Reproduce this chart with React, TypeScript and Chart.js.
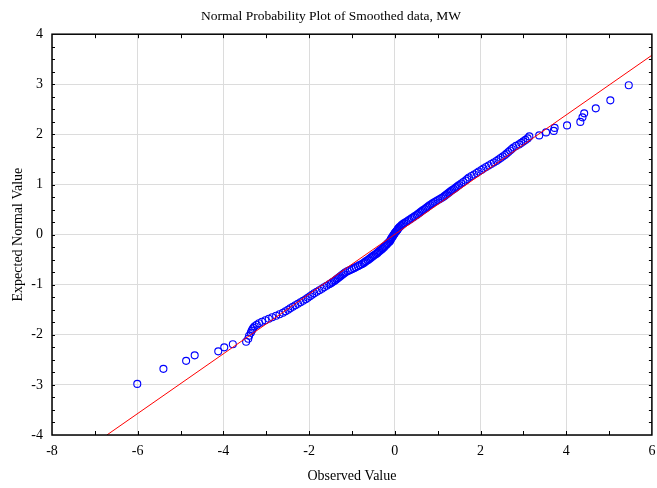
import React, { useEffect, useRef } from "react";
import { Chart, registerables } from "chart.js";

Chart.register(...registerables);

const chartTitle = "Normal Probability Plot of Smoothed data, MW";
const xAxisTitle = "Observed Value";
const yAxisTitle = "Expected Normal Value";

const xMin = -8, xMax = 6, xStep = 2;
const yMin = -4, yMax = 4, yStep = 1;

// lower tail
const lowerX = [-6.01,-5.40,-4.87,-4.67,-4.12,-3.98,-3.78,-3.47,-3.42,-3.40,-3.36,-3.34,-3.32,-3.30,-3.27,-3.22,-3.17,-3.10,-3.02,-2.94,-2.86,-2.77,-2.69,-2.61,-2.55,-2.49,-2.44,-2.38,-2.32,-2.26,-2.20,-2.14,-2.08,-2.03,-1.98,-1.93,-1.88,-1.82,-1.76,-1.70,-1.65,-1.59];
const lowerY = [-2.98,-2.68,-2.52,-2.41,-2.33,-2.25,-2.19,-2.14,-2.08,-2.02,-1.96,-1.92,-1.89,-1.86,-1.83,-1.80,-1.77,-1.74,-1.71,-1.68,-1.65,-1.62,-1.59,-1.56,-1.53,-1.50,-1.47,-1.44,-1.41,-1.38,-1.35,-1.32,-1.29,-1.26,-1.23,-1.20,-1.17,-1.14,-1.11,-1.08,-1.05,-1.02];

// dense middle band
const middleX = [-1.53,-1.49,-1.46,-1.42,-1.39,-1.36,-1.33,-1.30,-1.27,-1.24,-1.21,-1.18,-1.15,-1.10,-1.05,-1.00,-0.95,-0.91,-0.86,-0.82,-0.77,-0.73,-0.70,-0.67,-0.63,-0.60,-0.57,-0.54,-0.51,-0.48,-0.44,-0.41,-0.39,-0.36,-0.33,-0.30,-0.28,-0.25,-0.23,-0.20,-0.18,-0.16,-0.13,-0.11,-0.10,-0.09,-0.07,-0.06,-0.04,-0.03,-0.01,0.00,0.02,0.04,0.06,0.07,0.09,0.11,0.14,0.16,0.19,0.22,0.26,0.30,0.33,0.37,0.40,0.44,0.47,0.51,0.54,0.57,0.60,0.63,0.66,0.70,0.73,0.76,0.79,0.82,0.86,0.89,0.93,0.97,1.01,1.05,1.09,1.13,1.16,1.19,1.22,1.25,1.28,1.31,1.34,1.38,1.41,1.44,1.47,1.50];
const middleY = [-0.99,-0.97,-0.95,-0.93,-0.91,-0.89,-0.87,-0.85,-0.83,-0.81,-0.79,-0.77,-0.75,-0.73,-0.71,-0.69,-0.67,-0.65,-0.63,-0.61,-0.59,-0.57,-0.55,-0.53,-0.51,-0.49,-0.47,-0.45,-0.43,-0.41,-0.39,-0.37,-0.35,-0.33,-0.31,-0.29,-0.27,-0.25,-0.23,-0.21,-0.19,-0.17,-0.15,-0.13,-0.11,-0.09,-0.07,-0.05,-0.03,-0.01,0.01,0.03,0.05,0.07,0.09,0.11,0.13,0.15,0.17,0.19,0.21,0.23,0.25,0.27,0.29,0.31,0.33,0.35,0.37,0.39,0.41,0.43,0.45,0.47,0.49,0.51,0.53,0.55,0.57,0.59,0.61,0.63,0.65,0.67,0.69,0.71,0.73,0.75,0.77,0.79,0.81,0.83,0.85,0.87,0.89,0.91,0.93,0.95,0.97,0.99];

// upper tail
const upperX = [1.55,1.60,1.65,1.69,1.73,1.79,1.85,1.91,1.96,2.02,2.07,2.13,2.19,2.25,2.31,2.37,2.42,2.47,2.52,2.57,2.61,2.65,2.69,2.73,2.77,2.83,2.90,2.95,3.00,3.05,3.10,3.14,3.37,3.53,3.71,3.73,4.02,4.33,4.38,4.42,4.69,5.03,5.46];
const upperY = [1.02,1.05,1.08,1.11,1.14,1.17,1.20,1.23,1.26,1.29,1.32,1.35,1.38,1.41,1.44,1.47,1.50,1.53,1.56,1.59,1.62,1.65,1.68,1.71,1.74,1.77,1.80,1.83,1.86,1.89,1.92,1.96,1.98,2.04,2.07,2.13,2.18,2.25,2.34,2.42,2.52,2.68,2.98];

// fitted reference line end points
const lineX = [-6.72, 6];
const lineY = [-4, 3.58];

const FONT = "'Liberation Serif', 'Times New Roman', serif";

export default function App() {
  const ref = useRef<HTMLCanvasElement | null>(null);

  useEffect(() => {
    const canvas = ref.current;
    if (!canvas) return;

    const xs = [...lowerX, ...middleX, ...upperX];
    const ys = [...lowerY, ...middleY, ...upperY];
    const points = xs.map((x, i) => ({ x, y: ys[i] }));
    const line = lineX.map((x, i) => ({ x, y: lineY[i] }));

    const framePlugin = {
      id: "frame",
      afterDraw(chart: any) {
        const { ctx, chartArea } = chart;
        const sx = chart.scales.x;
        const sy = chart.scales.y;
        const { left, right, top, bottom } = chartArea;
        ctx.save();
        ctx.strokeStyle = "#000";
        ctx.lineWidth = 1;
        ctx.beginPath();
        for (let v = xMin + 1; v < xMax; v += 1) {
          const px = Math.round(sx.getPixelForValue(v)) + 0.5;
          ctx.moveTo(px, bottom);
          ctx.lineTo(px, bottom - 4);
          ctx.moveTo(px, top);
          ctx.lineTo(px, top + 4);
        }
        for (let v = yMin + 0.25; v < yMax; v += 0.25) {
          const py = Math.round(sy.getPixelForValue(v)) + 0.5;
          ctx.moveTo(left, py);
          ctx.lineTo(left + 3, py);
          ctx.moveTo(right, py);
          ctx.lineTo(right - 3, py);
        }
        ctx.stroke();
        ctx.lineWidth = 1.5;
        ctx.strokeRect(left, top, right - left, bottom - top);
        ctx.restore();
      },
    };

    const chart = new Chart(canvas, {
      type: "scatter",
      data: {
        datasets: [
          {
            label: "fit",
            data: line,
            showLine: true,
            borderColor: "#ff0000",
            borderWidth: 1,
            pointRadius: 0,
            order: 0,
          },
          {
            label: "data",
            data: points,
            pointStyle: "circle",
            pointRadius: 3.5,
            borderColor: "#0000ff",
            backgroundColor: "rgba(0,0,0,0)",
            borderWidth: 1.1,
            order: 1,
          },
        ],
      },
      options: {
        responsive: false,
        animation: false,
        events: [],
        layout: { padding: { top: 0, right: 5, left: 10, bottom: 0 } },
        plugins: {
          legend: { display: false },
          tooltip: { enabled: false },
          title: {
            display: true,
            text: chartTitle,
            color: "#000",
            font: { family: FONT, size: 13.5, weight: "normal" },
            padding: { top: 8, bottom: 10 },
          },
        },
        scales: {
          x: {
            type: "linear",
            min: xMin,
            max: xMax,
            afterFit: (s: any) => { s.height = 53; s.paddingLeft = 0; s.paddingRight = 0; },
            ticks: {
              stepSize: xStep,
              color: "#000",
              padding: 8,
              font: { family: FONT, size: 14 },
            },
            grid: { color: "#dcdcdc", drawTicks: false, lineWidth: 1 },
            border: { display: false },
            title: {
              display: true,
              text: xAxisTitle,
              color: "#000",
              font: { family: FONT, size: 14 },
              padding: { top: 0, bottom: 3.5 },
            },
          },
          y: {
            type: "linear",
            min: yMin,
            max: yMax,
            afterFit: (s: any) => { s.width = 42; s.paddingTop = 0; s.paddingBottom = 0; },
            ticks: {
              stepSize: yStep,
              color: "#000",
              padding: 9,
              font: { family: FONT, size: 14 },
            },
            grid: { color: "#dcdcdc", drawTicks: false, lineWidth: 1 },
            border: { display: false },
            title: {
              display: true,
              text: yAxisTitle,
              color: "#000",
              font: { family: FONT, size: 14 },
              padding: { top: 0, bottom: 0 },
            },
          },
        },
      },
      plugins: [framePlugin],
    } as any);

    return () => chart.destroy();
  }, []);

  return (
    <div style={{ position: "absolute", left: 0, top: 0, width: 657, height: 488, background: "#fff" }}>
      <canvas ref={ref} width={657} height={488} style={{ display: "block" }} />
    </div>
  );
}
